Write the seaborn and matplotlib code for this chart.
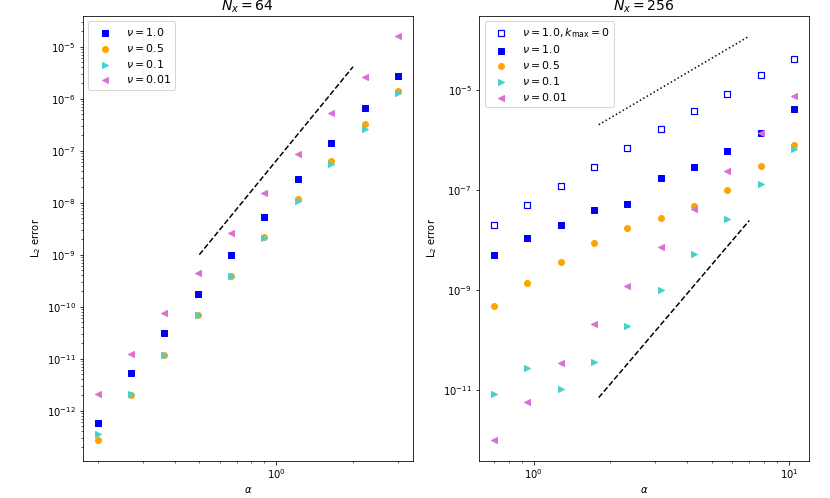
import numpy as np
import pandas as pd
import matplotlib
matplotlib.use("Agg")
import matplotlib.pyplot as plt
from matplotlib.ticker import FixedLocator, NullLocator
import seaborn as sns

# ---- data ----
alpha_64 = [0.2, 0.270, 0.365, 0.493, 0.666, 0.900, 1.216, 1.643, 2.220, 3.0]
alpha_256 = [0.7, 0.946, 1.278, 1.726, 2.332, 3.150, 4.256, 5.750, 7.768, 10.5]

# N_x = 64
err64_nu1 = [5.7e-13, 5.2e-12, 3.05e-11, 1.75e-10, 9.9e-10, 5.35e-9, 2.8e-8, 1.41e-7, 6.5e-7, 2.69e-6]
err64_nu05 = [2.68e-13, 1.98e-12, 1.18e-11, 6.8e-11, 3.95e-10, 2.17e-9, 1.16e-8, 6.25e-8, 3.23e-7, 1.42e-6]
err64_nu01 = [3.55e-13, 2.09e-12, 1.2e-11, 6.8e-11, 3.9e-10, 2.12e-9, 1.09e-8, 5.55e-8, 2.59e-7, 1.28e-6]
err64_nu001 = [2.07e-12, 1.22e-11, 7.5e-11, 4.37e-10, 2.63e-9, 1.53e-8, 8.5e-8, 5.26e-7, 2.61e-6, 1.59e-5]

# N_x = 256
err256_nu1_k0 = [2.0e-8, 4.89e-8, 1.17e-7, 2.83e-7, 6.7e-7, 1.61e-6, 3.7e-6, 8.4e-6, 1.93e-5, 4.09e-5]
err256_nu1 = [5.0e-9, 1.08e-8, 2.0e-8, 3.88e-8, 5.28e-8, 1.73e-7, 2.83e-7, 6.0e-7, 1.36e-6, 4.07e-6]
err256_nu05 = [4.82e-10, 1.40e-9, 3.68e-9, 8.73e-9, 1.69e-8, 2.77e-8, 4.75e-8, 1.01e-7, 2.96e-7, 7.7e-7]
err256_nu01 = [8.2e-12, 2.8e-11, 1.06e-11, 3.53e-11, 1.86e-10, 9.8e-10, 5.17e-9, 2.64e-8, 1.29e-7, 6.6e-7]
err256_nu001 = [9.75e-13, 5.8e-12, 3.47e-11, 2.04e-10, 1.21e-9, 7.14e-9, 4.2e-8, 2.39e-7, 1.38e-6, 7.4e-6]

# reference slope lines (endpoints)
ref64_dash_x = [0.5, 2.0]
ref64_dash_y = [1.0e-9, 4.1e-6]
ref256_dot_x = [1.8, 7.0]
ref256_dot_y = [2.0e-6, 1.18e-4]
ref256_dash_x = [1.8, 7.0]
ref256_dash_y = [7.0e-12, 2.43e-8]

right_yticks = [1e-11, 1e-9, 1e-7, 1e-5]

labels_64 = [r"$\nu = 1.0$", r"$\nu = 0.5$", r"$\nu = 0.1$", r"$\nu = 0.01$"]
labels_256 = [r"$\nu = 1.0, k_{\mathrm{max}} = 0$", r"$\nu = 1.0$", r"$\nu = 0.5$",
              r"$\nu = 0.1$", r"$\nu = 0.01$"]

C_BLUE = "blue"
C_ORANGE = "orange"
C_CYAN = "mediumturquoise"
C_VIOLET = "orchid"

fig, (ax1, ax2) = plt.subplots(1, 2, figsize=(830 / 72, 498 / 72), dpi=72)
fig.subplots_adjust(left=0.0997, right=0.975, bottom=0.075, top=0.968, wspace=0.2)

S = 36


def pts(ax, x, y, marker, color, label, filled=True):
    if filled:
        sns.scatterplot(x=x, y=y, ax=ax, marker=marker, color=color, s=S,
                        edgecolor=color, linewidth=1.0, label=label, zorder=3)
    else:
        sns.scatterplot(x=x, y=y, ax=ax, marker=marker, color=color, s=S,
                        facecolors="none", edgecolor=color, linewidth=1.2,
                        label=label, zorder=3)


# Left panel
pts(ax1, alpha_64, err64_nu1, "s", C_BLUE, labels_64[0])
pts(ax1, alpha_64, err64_nu05, "o", C_ORANGE, labels_64[1])
pts(ax1, alpha_64, err64_nu01, ">", C_CYAN, labels_64[2])
pts(ax1, alpha_64, err64_nu001, "<", C_VIOLET, labels_64[3])
sns.lineplot(x=ref64_dash_x, y=ref64_dash_y, ax=ax1, color="k", linestyle="--",
             sort=False, estimator=None, linewidth=1.5)

# Right panel
pts(ax2, alpha_256, err256_nu1_k0, "s", C_BLUE, labels_256[0], filled=False)
pts(ax2, alpha_256, err256_nu1, "s", C_BLUE, labels_256[1])
pts(ax2, alpha_256, err256_nu05, "o", C_ORANGE, labels_256[2])
pts(ax2, alpha_256, err256_nu01, ">", C_CYAN, labels_256[3])
pts(ax2, alpha_256, err256_nu001, "<", C_VIOLET, labels_256[4])
sns.lineplot(x=ref256_dot_x, y=ref256_dot_y, ax=ax2, color="k", linestyle=":",
             sort=False, estimator=None, linewidth=1.5)
sns.lineplot(x=ref256_dash_x, y=ref256_dash_y, ax=ax2, color="k", linestyle="--",
             sort=False, estimator=None, linewidth=1.5)

for ax, title in ((ax1, r"$N_x = 64$"), (ax2, r"$N_x = 256$")):
    ax.set_xscale("log")
    ax.set_yscale("log")
    ax.set_title(title, fontsize=14, pad=5)
    ax.set_xlabel(r"$\alpha$", fontsize=10)
    ax.set_ylabel(r"L$_2$ error", fontsize=10)
    ax.legend(loc="upper left", fontsize=11, handlelength=2.2, handletextpad=0.8,
              labelspacing=0.35)
    ax.grid(False)
    ax.set_facecolor("white")
    for sp in ax.spines.values():
        sp.set_visible(True)
        sp.set_color("black")

ax2.yaxis.set_major_locator(FixedLocator(right_yticks))
ax2.yaxis.set_minor_locator(NullLocator())

fig.savefig("out.png", dpi=72, facecolor="white")
